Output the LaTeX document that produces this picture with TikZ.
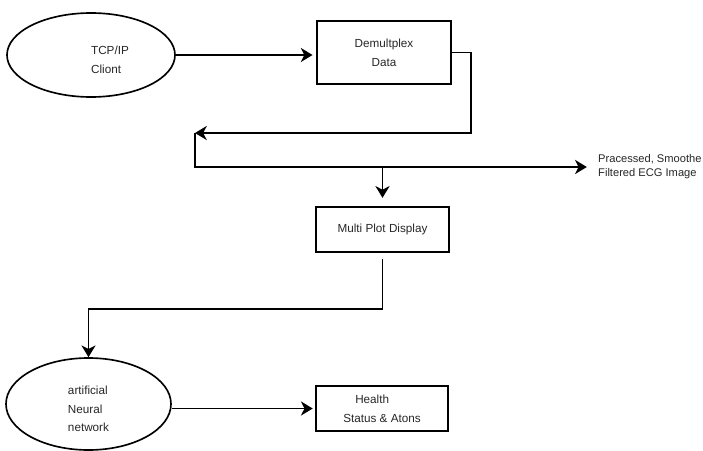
\documentclass[tikz,border=0pt]{standalone}
\usepackage{fontspec}
\setmainfont{Liberation Sans}
\usetikzlibrary{shapes.geometric,arrows.meta}

\begin{document}
\begin{tikzpicture}[x=0.03cm, y=-0.03cm,
  every node/.style={font=\fontsize{10}{16}\selectfont, text=black!85},
  blob/.style={draw, ellipse, line width=1.4pt, inner sep=0pt},
  stage/.style={draw, rectangle, line width=1.6pt, align=center, inner sep=0pt},
  flow/.style={line width=1.6pt, -{Stealth[length=10pt,width=12pt,inset=3pt]}},
  wire/.style={line width=1.6pt}]

\useasboundingbox (0,0) rectangle (703,451);

% sources and stages
\node[blob, minimum width=5.04cm, minimum height=2.52cm,
  label={[align=left, xshift=0.57cm, yshift=-0.15cm]center:TCP/IP\\Cliont}] (tcp) at (91,55) {};
\node[stage, minimum width=4.02cm, minimum height=1.89cm] (demux) at (384,52.5) {Demultplex\\Data};
\node[stage, minimum width=3.99cm, minimum height=1.35cm] (multi) at (382.5,229.5) {Multi Plot Display};
\node[blob, minimum width=4.95cm, minimum height=2.76cm,
  label={[align=left, yshift=-0.15cm]center:artificial\\Neural\\network}] (ann) at (88.5,404) {};
\node[stage, minimum width=3.96cm, minimum height=1.35cm, align=left] (health) at (382,408.5)
  {\hspace*{0.36cm}Health\\Status \& Atons};
\node[anchor=west, align=left, inner xsep=0.3cm, inner ysep=0pt,
  font=\fontsize{9.5}{12}\selectfont] (ecg) at (588,167) {Pracessed, Smoothe\\Filtered ECG Image};

\coordinate (back) at (195,133);
\coordinate (split) at (195,167);

% connectors
\draw[flow, shorten >=3pt] (tcp.east) -- (tcp.east -| demux.west);
\draw[flow] (demux.east) -- ++(19,0) |- (back);
\draw[flow, shorten >=1pt] (back) -- (split) -- (ecg.west);
\draw[flow, shorten >=7pt] (multi.north |- split) -- (multi.north);
\draw[flow, shorten <=5pt] (multi.south) -- ++(0,56) -| (ann.north);
\draw[flow, shorten >=2pt] (ann.east |- health.west) -- (health.west);

\end{tikzpicture}
\end{document}
